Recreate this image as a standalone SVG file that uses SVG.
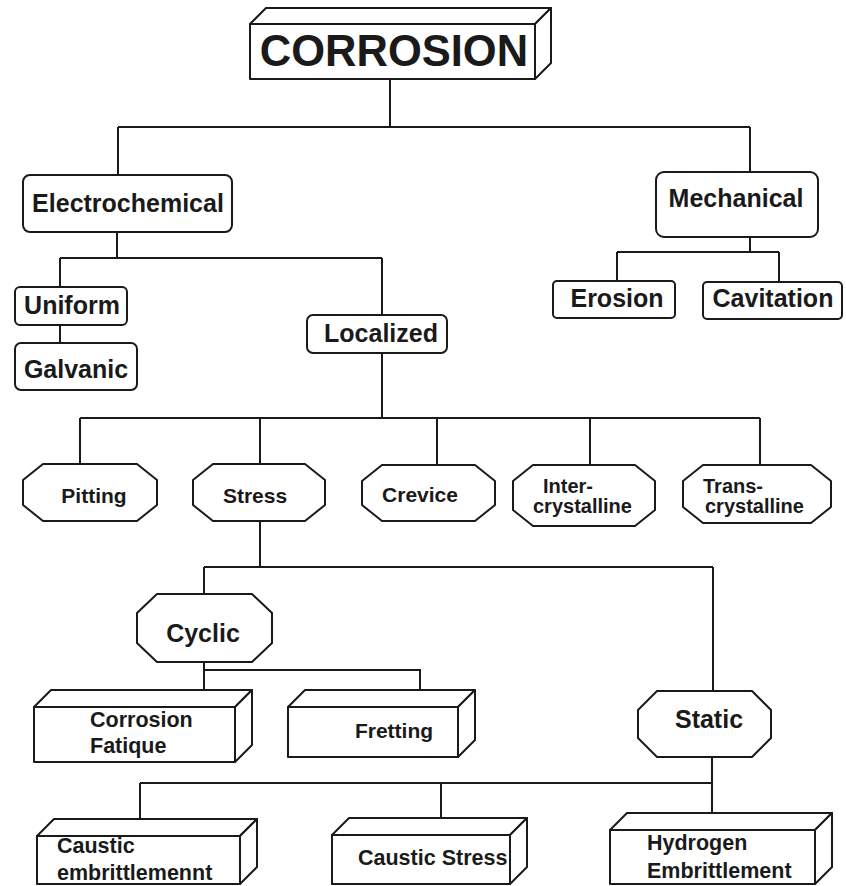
<svg xmlns="http://www.w3.org/2000/svg" width="846" height="886" viewBox="0 0 846 886">
<style>
.b{fill:#fff;stroke:#1a1a1a;stroke-width:2;stroke-linejoin:round}
.c{fill:none;stroke:#1a1a1a;stroke-width:2}
text{font-family:"Liberation Sans",Arial,sans-serif;font-weight:bold;fill:#1a1a1a}
.l{font-size:25px;text-anchor:middle}
.m{font-size:21px;text-anchor:middle}
.s{font-size:21.5px}
.t{font-size:20px}
</style>
<rect width="846" height="886" fill="#fff"/>
<g id="connectors">
<path class="c" d="M390,79V127M118,127H750M118,127V175M750,127V172"/>
<path class="c" d="M117,232V258M60,258H382M60,258V287M382,258V315M60,325V343"/>
<path class="c" d="M750,237V252M617,252H779M617,252V281M779,252V282"/>
<path class="c" d="M382,353V418M80,418H760M80,418V464M260,418V464M437,418V465M590,418V465M760,418V465"/>
<path class="c" d="M260,521V567M204,567H713M204,567V594M713,567V691"/>
<path class="c" d="M204,662V690M204,670H420V690"/>
<path class="c" d="M712,757V813M140,783H712M140,783V819M441,783V817"/>
</g>
<g id="corrosion">
<polygon class="b" points="250,24 266,8 551,8 535,24"/>
<polygon class="b" points="535,24 551,8 551,63 535,79"/>
<rect class="b" x="250" y="24" width="285" height="55"/>
<text x="394" y="66" font-size="43.5" text-anchor="middle">CORROSION</text>
</g>
<g id="electrochemical">
<rect class="b" x="23" y="175" width="209" height="57" rx="7"/>
<text class="l" x="128" y="212">Electrochemical</text>
</g>
<g id="mechanical">
<rect class="b" x="656" y="172" width="162" height="65" rx="8"/>
<text class="l" x="736" y="207">Mechanical</text>
</g>
<g id="uniform">
<rect class="b" x="15" y="287" width="112" height="38" rx="5"/>
<text class="l" x="72" y="314">Uniform</text>
</g>
<g id="galvanic">
<rect class="b" x="15" y="343" width="122" height="47" rx="6"/>
<text class="l" x="76" y="378">Galvanic</text>
</g>
<g id="localized">
<rect class="b" x="307" y="315" width="140" height="38" rx="6"/>
<text class="l" x="381" y="342">Localized</text>
</g>
<g id="erosion">
<rect class="b" x="553" y="281" width="122" height="37" rx="4"/>
<text class="l" x="617" y="307">Erosion</text>
</g>
<g id="cavitation">
<rect class="b" x="703" y="282" width="139" height="37" rx="4"/>
<text class="l" x="773" y="307">Cavitation</text>
</g>
<g id="pitting">
<polygon class="b" points="43,464 137,464 157,480 157,505 137,521 43,521 23,505 23,480"/>
<text class="m" x="94" y="503">Pitting</text>
</g>
<g id="stress">
<polygon class="b" points="213,464 305,464 325,480 325,505 305,521 213,521 193,505 193,480"/>
<text class="m" x="255" y="503">Stress</text>
</g>
<g id="crevice">
<polygon class="b" points="382,465 475,465 495,481 495,505 475,521 382,521 362,505 362,481"/>
<text class="m" x="420" y="502">Crevice</text>
</g>
<g id="intercrystalline">
<polygon class="b" points="533,465 635,465 655,481 655,510 635,526 533,526 513,510 513,481"/>
<text class="t" x="543" y="493">Inter-</text>
<text class="t" x="533" y="513">crystalline</text>
</g>
<g id="transcrystalline">
<polygon class="b" points="703,465 811,465 831,481 831,507 811,523 703,523 683,507 683,481"/>
<text class="t" x="703" y="493">Trans-</text>
<text class="t" x="705" y="513">crystalline</text>
</g>
<g id="cyclic">
<polygon class="b" points="157,594 252,594 272,613 272,643 252,662 157,662 137,643 137,613"/>
<text class="l" x="203" y="642">Cyclic</text>
</g>
<g id="static">
<polygon class="b" points="657,691 752,691 771,710 771,738 752,757 657,757 638,738 638,710"/>
<text class="l" x="709" y="728">Static</text>
</g>
<g id="corrosion-fatique">
<polygon class="b" points="34,707 51,690 252,690 235,707"/>
<polygon class="b" points="235,707 252,690 252,745 235,762"/>
<rect class="b" x="34" y="707" width="201" height="55"/>
<text class="s" x="90" y="727">Corrosion</text>
<text class="s" x="90" y="753">Fatique</text>
</g>
<g id="fretting">
<polygon class="b" points="288,707 305,690 475,690 458,707"/>
<polygon class="b" points="458,707 475,690 475,740 458,757"/>
<rect class="b" x="288" y="707" width="170" height="50"/>
<text class="m" x="394" y="738">Fretting</text>
</g>
<g id="caustic-embrittlement">
<polygon class="b" points="37,836 54,819 257,819 240,836"/>
<polygon class="b" points="240,836 257,819 257,867 240,884"/>
<rect class="b" x="37" y="836" width="203" height="48"/>
<text class="s" x="57" y="853">Caustic</text>
<text class="s" x="57" y="880">embrittlemennt</text>
</g>
<g id="caustic-stress">
<polygon class="b" points="332,835 349,818 527,818 510,835"/>
<polygon class="b" points="510,835 527,818 527,867 510,884"/>
<rect class="b" x="332" y="835" width="178" height="49"/>
<text class="s" x="358" y="865">Caustic Stress</text>
</g>
<g id="hydrogen-embrittlement">
<polygon class="b" points="610,830 627,813 832,813 815,830"/>
<polygon class="b" points="815,830 832,813 832,867 815,884"/>
<rect class="b" x="610" y="830" width="205" height="54"/>
<text class="s" x="647" y="850">Hydrogen</text>
<text class="s" x="647" y="878">Embrittlement</text>
</g>
</svg>
